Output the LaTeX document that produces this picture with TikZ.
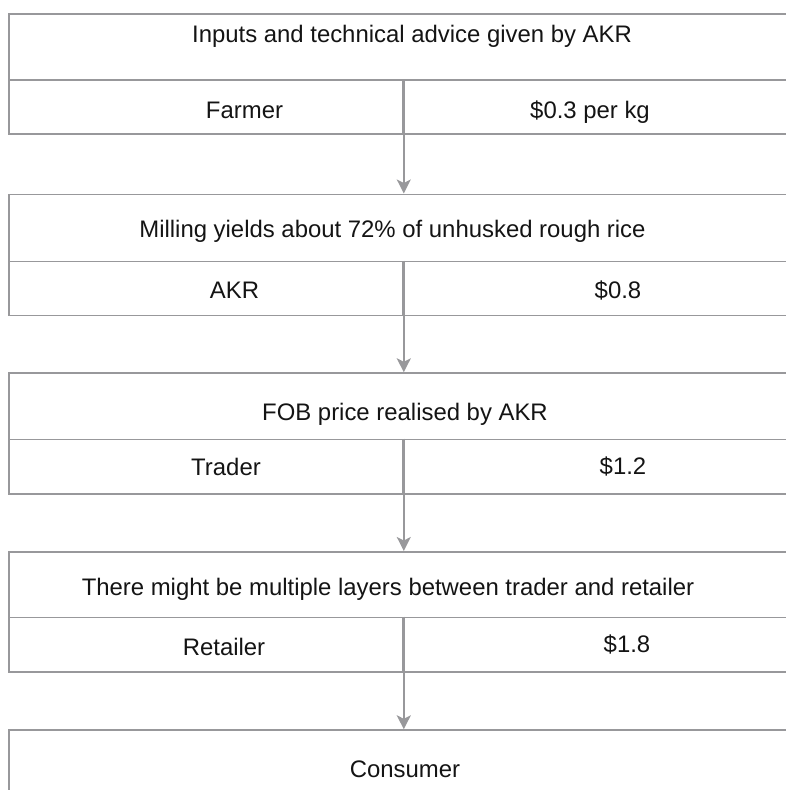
\documentclass[tikz,border=0pt]{standalone}
\usepackage{fontspec}
\setmainfont{Liberation Sans}
\usetikzlibrary{arrows.meta}
\definecolor{rule}{RGB}{152,152,155}
\definecolor{ink}{RGB}{20,20,20}
\tikzset{
  cell/.style={draw=rule, line width=1.8pt, rectangle, inner sep=0pt, anchor=north west},
  lbl/.style={anchor=base, inner sep=0pt, text=ink, font=\fontsize{23.9}{28}\selectfont},
  flow/.style={draw=rule, line width=1.8pt, -{Stealth[length=14pt,width=14pt,inset=3.5pt]}},
}
\begin{document}
\begin{tikzpicture}[x=1pt,y=-1pt]
\useasboundingbox (0,0) rectangle (786,790);
\begin{scope}
\clip (0,0) rectangle (786,790);
% stage 1: farmer
\node[cell, minimum width=792pt, minimum height=66pt] (h1) at (8.3,13.3) {};
\node[cell, minimum width=393.7pt, minimum height=54pt] (l1) at (8.3,79.3) {};
\node[cell, minimum width=398pt, minimum height=54pt] (r1) at (402,79.3) {};
% stage 2: milling
\node[cell, minimum width=792pt, minimum height=67pt] (h2) at (8.3,193.5) {};
\node[cell, minimum width=393.7pt, minimum height=54pt] (l2) at (8.3,260.5) {};
\node[cell, minimum width=398pt, minimum height=54pt] (r2) at (402,260.5) {};
% stage 3: trader
\node[cell, minimum width=792pt, minimum height=66.2pt] (h3) at (8.3,372.3) {};
\node[cell, minimum width=393.7pt, minimum height=54.2pt] (l3) at (8.3,438.5) {};
\node[cell, minimum width=398pt, minimum height=54.2pt] (r3) at (402,438.5) {};
% stage 4: retailer
\node[cell, minimum width=792pt, minimum height=65.5pt] (h4) at (8.3,551) {};
\node[cell, minimum width=393.7pt, minimum height=54.5pt] (l4) at (8.3,616.5) {};
\node[cell, minimum width=398pt, minimum height=54.5pt] (r4) at (402,616.5) {};
% stage 5: consumer
\node[cell, minimum width=792pt, minimum height=100pt] (h5) at (8.3,729.3) {};
% flow between stages
\draw[flow] (l1.north east) -- (l1.north east |- h2.north);
\draw[flow] (l2.north east) -- (l2.north east |- h3.north);
\draw[flow] (l3.north east) -- (l3.north east |- h4.north);
\draw[flow] (l4.north east) -- (l4.north east |- h5.north);
\end{scope}
% labels
\node[lbl] (t1) at (412,42.5) {Inputs and technical advice given by AKR};
\node[lbl] (a1) at (244.5,118.6) {Farmer};
\node[lbl] (p1) at (590,118.6) {\$0.3 per kg};
\node[lbl] (t2) at (392.5,237) {Milling yields about 72\% of unhusked rough rice};
\node[lbl] (a2) at (234.5,298.5) {AKR};
\node[lbl] (p2) at (618,298.5) {\$0.8};
\node[lbl] (t3) at (405,420.7) {FOB price realised by AKR};
\node[lbl] (a3) at (226,475.5) {Trader};
\node[lbl] (p3) at (623,474.5) {\$1.2};
\node[lbl] (t4) at (388,595) {There might be multiple layers between trader and retailer};
\node[lbl] (a4) at (224,655.5) {Retailer};
\node[lbl] (p4) at (627,652.5) {\$1.8};
\node[lbl] (t5) at (405,777) {Consumer};
\end{tikzpicture}
\end{document}
